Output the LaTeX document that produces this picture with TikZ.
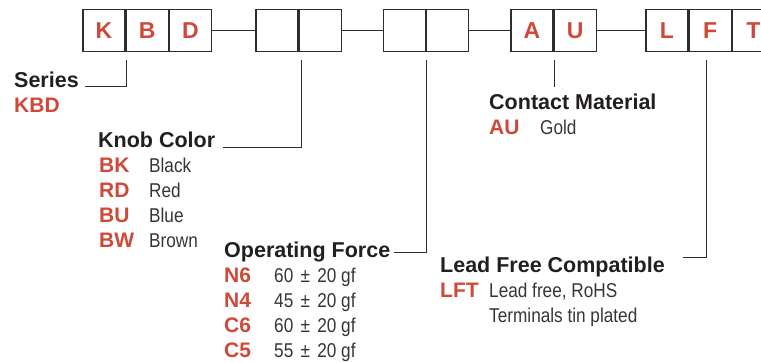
\documentclass[tikz,border=0pt]{standalone}
\usepackage{fontspec}
\setmainfont{Liberation Sans}
\newfontfamily\descfont[FakeStretch=0.86]{Liberation Sans}
\usetikzlibrary{positioning}
\definecolor{codered}{RGB}{208,72,56}
\definecolor{linegray}{RGB}{45,45,45}
\definecolor{textgray}{RGB}{35,31,32}
\newcommand{\plusminus}{\hspace{2.5pt}±\hspace{2.5pt}}
\tikzset{
  cell/.style={draw=linegray, line width=1.2pt, minimum size=42pt, inner sep=0pt,
    font=\fontsize{23}{23}\selectfont\bfseries, text=codered},
  heading/.style={anchor=base west, inner sep=0pt,
    font=\fontsize{21.5}{21.5}\selectfont\bfseries, text=textgray},
  code/.style={anchor=base west, inner sep=0pt,
    font=\fontsize{21}{21}\selectfont\bfseries, text=codered},
  desc/.style={anchor=base west, inner sep=0pt,
    font=\descfont\fontsize{20}{20}\selectfont, text=textgray!90},
  leader/.style={draw=linegray, line width=1pt}
}
\begin{document}
\begin{tikzpicture}[x=1pt, y=-1pt]
    \useasboundingbox (0,0) rectangle (761,363);

    % Bestellschluessel
    \node[cell] (k1) at (104,30.5) {K};
    \node[cell, right=0pt of k1] (k2) {B};
    \node[cell, right=0pt of k2] (k3) {D};

    \node[cell] (c1) at (277,30.5) {};
    \node[cell, right=0pt of c1] (c2) {};

    \node[cell] (f1) at (404.5,30.5) {};
    \node[cell, right=0pt of f1] (f2) {};

    \node[cell] (a1) at (532,30.5) {A};
    \node[cell, right=0pt of a1] (a2) {U};

    \node[cell] (l1) at (667,30.5) {L};
    \node[cell, right=0pt of l1] (l2) {F};
    \node[cell, right=0pt of l2] (l3) {T};

    \draw[leader] (k3.east) -- (c1.west);
    \draw[leader] (c2.east) -- (f1.west);
    \draw[leader] (f2.east) -- (a1.west);
    \draw[leader] (a2.east) -- (l1.west);

    % Series
    \node[heading] (series) at (14,88) {Series};
    \node[code] (series-kbd) at (14,113) {KBD};
    \coordinate (series-top) at (126.7,60);
    \draw[leader] (series-top) |- ([xshift=6pt,yshift=1pt]series.base east);

    % Knopffarbe
    \node[heading] (knob) at (98,148) {Knob Color};
    \node[code] (knob-bk) at (99,173) {BK};
    \node[desc] (knob-black) at (149,173) {Black};
    \node[code] (knob-rd) at (99,198) {RD};
    \node[desc] (knob-red) at (149,198) {Red};
    \node[code] (knob-bu) at (99,223) {BU};
    \node[desc] (knob-blue) at (149,223) {Blue};
    \node[code] (knob-bw) at (99,248) {BW};
    \node[desc] (knob-brown) at (149,248) {Brown};
    \coordinate (knob-top) at (301.7,60);
    \draw[leader] (knob-top) |- ([xshift=8pt]knob.base east);

    % Betaetigungskraft
    \node[heading] (force) at (224,258) {Operating Force};
    \node[code] (force-n6) at (224,283) {N6};
    \node[desc] (force-n6v) at (274,283) {60 \plusminus{} 20 gf};
    \node[code] (force-n4) at (224,308) {N4};
    \node[desc] (force-n4v) at (274,308) {45 \plusminus{} 20 gf};
    \node[code] (force-c6) at (224,333) {C6};
    \node[desc] (force-c6v) at (274,333) {60 \plusminus{} 20 gf};
    \node[code] (force-c5) at (224,358) {C5};
    \node[desc] (force-c5v) at (274,358) {55 \plusminus{} 20 gf};
    \coordinate (force-top) at (426.7,60);
    \draw[leader] (force-top) |- ([xshift=4pt,yshift=5pt]force.base east);

    % Kontaktmaterial
    \node[heading] (contact) at (489,110) {Contact Material};
    \node[code] (contact-au) at (489,135) {AU};
    \node[desc] (contact-gold) at (540,135) {Gold};
    \coordinate (contact-top) at (554,60);
    \coordinate (contact-end) at (554,87);
    \draw[leader] (contact-top) -- (contact-end);

    % Bleifrei
    \node[heading] (leadfree) at (440,273) {Lead Free Compatible};
    \node[code] (leadfree-lft) at (440,298) {LFT};
    \node[desc] (leadfree-rohs) at (489,298) {Lead free, RoHS};
    \node[desc] (leadfree-tin) at (489,323) {Terminals tin plated};
    \coordinate (leadfree-top) at (706.5,60);
    \coordinate (leadfree-end) at (683,258);
    \draw[leader] (leadfree-top) |- (leadfree-end);
\end{tikzpicture}
\end{document}
